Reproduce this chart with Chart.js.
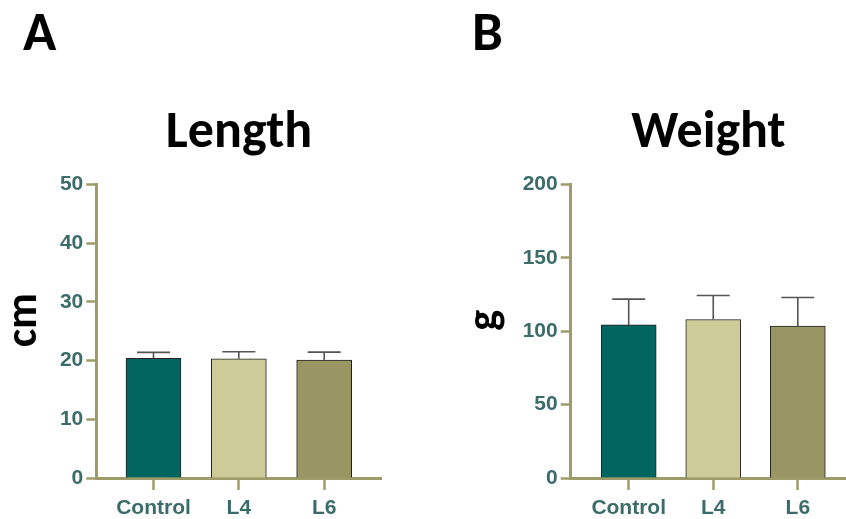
<!DOCTYPE html>
<html>
<head>
<meta charset="utf-8">
<script src="https://cdn.jsdelivr.net/npm/chart.js@4.4.1/dist/chart.umd.min.js"></script>
<style>
  html, body { margin: 0; padding: 0; background: #fff; overflow: hidden; }
  .panel { position: absolute; top: 0; width: 423px; height: 519px; }
</style>
</head>
<body>
<div class="panel" style="left:0"><canvas id="lengthChart" width="423" height="519"></canvas></div>
<div class="panel" style="left:423px"><canvas id="weightChart" width="423" height="519"></canvas></div>
<script>
// groups on the x axis
const categories = ['Control', 'L4', 'L6'];
// Length panel (cm)
const lengthMean = [20.4, 20.3, 20.1];
const lengthSd = [1.0, 1.2, 1.35];
const lengthTicks = [0, 10, 20, 30, 40, 50];
// Weight panel (g)
const weightMean = [104.3, 108.0, 103.6];
const weightSd = [17.6, 16.4, 19.4];
const weightTicks = [0, 50, 100, 150, 200];

const barColors = ['#00665f', '#cdcb98', '#999663'];
const axisColor = '#9d9c68';
const tickColor = '#3b6c6a';
const titleFont = "Carlito, Lato, 'Open Sans', sans-serif";
const tickFont = "'Liberation Sans', Arial, sans-serif";

// draws the upper SD whisker on each bar
const errorBars = {
    id: 'errorBars',
    afterDatasetsDraw(chart, args, opts) {
        const ctx = chart.ctx;
        const yScale = chart.scales.y;
        const meta = chart.getDatasetMeta(0);
        const values = chart.data.datasets[0].data;
        ctx.save();
        ctx.strokeStyle = '#555';
        ctx.lineWidth = 1.6;
        meta.data.forEach((bar, i) => {
            const top = yScale.getPixelForValue(values[i].y + opts.sd[i]);
            const half = bar.width * 0.3;
            ctx.beginPath();
            ctx.moveTo(bar.x, bar.y);
            ctx.lineTo(bar.x, top);
            ctx.moveTo(bar.x - half, top);
            ctx.lineTo(bar.x + half, top);
            ctx.stroke();
        });
        ctx.restore();
    }
};

function makeChart(id, cfg) {
    return new Chart(document.getElementById(id), {
        type: 'bar',
        data: {
            datasets: [{
                data: categories.map((c, i) => ({x: i, y: cfg.mean[i]})),
                backgroundColor: barColors,
                borderColor: '#222',
                borderWidth: 1,
                barThickness: 55
            }]
        },
        options: {
            responsive: false,
            animation: false,
            layout: {padding: {left: cfg.padLeft, right: cfg.padRight, top: 0, bottom: 0}},
            plugins: {
                legend: {display: false},
                tooltip: {enabled: false},
                title: {
                    display: true, text: cfg.letter, align: 'start', color: '#000',
                    font: {family: titleFont, size: 55, weight: 'bold', lineHeight: 1},
                    padding: {top: 9, bottom: 0}
                },
                subtitle: {
                    display: true, text: cfg.title, align: 'center', fullSize: false, color: '#000',
                    font: {family: titleFont, size: 52, weight: 'bold', lineHeight: 1},
                    padding: {top: 44, bottom: 24.5}
                },
                errorBars: {sd: cfg.sd}
            },
            scales: {
                x: {
                    type: 'linear',
                    offset: false,
                    min: cfg.xMin, max: cfg.xMax,
                    afterBuildTicks: s => { s.ticks = categories.map((c, i) => ({value: i})); },
                    afterFit: s => { s.height = 41; },
                    ticks: {
                        callback: v => categories[v],
                        color: tickColor, padding: 6,
                        font: {family: tickFont, size: 21, weight: 'bold'}
                    },
                    grid: {offset: false, drawOnChartArea: false, tickLength: 12, tickColor: axisColor, tickWidth: 2.5},
                    border: {color: axisColor, width: 3}
                },
                y: {
                    min: 0, max: cfg.ticks[cfg.ticks.length - 1],
                    afterBuildTicks: s => { s.ticks = cfg.ticks.map(v => ({value: v})); },
                    afterFit: s => { s.width = cfg.yWidth; },
                    ticks: {
                        color: tickColor, padding: 3,
                        font: {family: tickFont, size: 21, weight: 'bold'}
                    },
                    grid: {drawOnChartArea: false, tickLength: 10, tickColor: axisColor, tickWidth: 2.5},
                    border: {color: axisColor, width: 3},
                    title: {
                        display: true, text: '\u2002' + cfg.unit, color: '#000',
                        font: {family: titleFont, size: 44, weight: 'bold', lineHeight: 1},
                        padding: {top: cfg.unitPad, bottom: 0}
                    }
                }
            }
        },
        plugins: [errorBars]
    });
}

makeChart('lengthChart', {
    letter: 'A', title: 'Length', unit: 'cm',
    mean: lengthMean, sd: lengthSd, ticks: lengthTicks,
    padLeft: 23, padRight: 41.3, yWidth: 73.3, unitPad: -20,
    xMin: -0.67, xMax: 2.674
});
makeChart('weightChart', {
    letter: 'B', title: 'Weight', unit: 'g',
    mean: weightMean, sd: weightSd, ticks: weightTicks,
    padLeft: 49, padRight: 0, yWidth: 98.7, unitPad: -8,
    xMin: -0.686, xMax: 2.57
});
</script>
</body>
</html>
